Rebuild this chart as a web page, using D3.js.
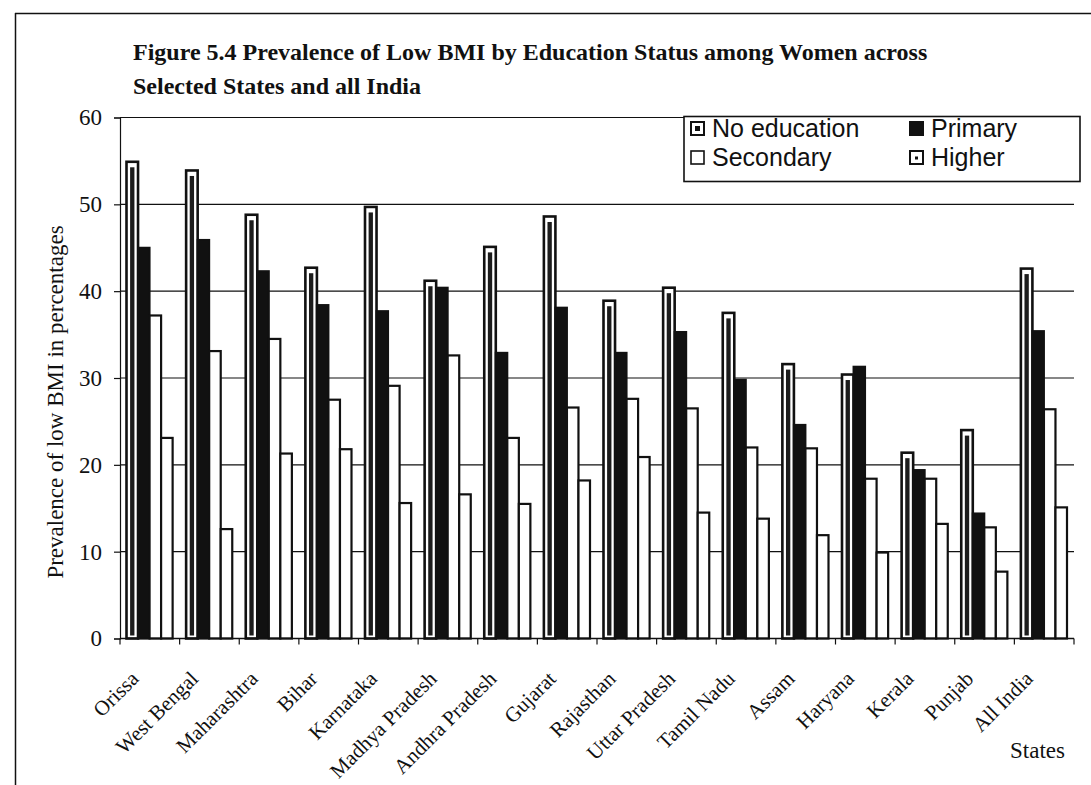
<!DOCTYPE html>
<html>
<head>
<meta charset="utf-8">
<script src="https://cdn.jsdelivr.net/npm/d3@7"></script>
<style>
  html, body { margin: 0; padding: 0; background: #fff; }
  svg { display: block; }
</style>
</head>
<body>
<svg id="chart" width="1091" height="785"></svg>
<script>
const titleLines = [
  "Figure 5.4 Prevalence of Low BMI by Education Status among Women across",
  "Selected States and all India"
];
const states = ["Orissa", "West Bengal", "Maharashtra", "Bihar", "Karnataka", "Madhya Pradesh",
  "Andhra Pradesh", "Gujarat", "Rajasthan", "Uttar Pradesh", "Tamil Nadu", "Assam",
  "Haryana", "Kerala", "Punjab", "All India"];
const seriesNames = ["No education", "Primary", "Secondary", "Higher"];
const noEducation = [54.9, 53.9, 48.8, 42.7, 49.7, 41.2, 45.1, 48.6, 38.9, 40.4, 37.5, 31.6, 30.4, 21.4, 24.0, 42.6];
const primary     = [45.0, 45.9, 42.3, 38.4, 37.7, 40.4, 32.9, 38.1, 32.9, 35.3, 29.8, 24.6, 31.3, 19.4, 14.4, 35.4];
const secondary   = [37.2, 33.1, 34.5, 27.5, 29.1, 32.6, 23.1, 26.6, 27.6, 26.5, 22.0, 21.9, 18.4, 18.4, 12.8, 26.4];
const higher      = [23.1, 12.6, 21.3, 21.8, 15.6, 16.6, 15.5, 18.2, 20.9, 14.5, 13.8, 11.9, 9.9, 13.2, 7.7, 15.1];
const yTicks = [0, 10, 20, 30, 40, 50, 60];
const yAxisTitle = "Prevalence of low BMI in percentages";
const xAxisTitle = "States";

const seriesValues = [noEducation, primary, secondary, higher];
const rows = states.map((s, i) => ({
  state: s,
  vals: seriesNames.map((n, j) => ({ series: n, idx: j, value: seriesValues[j][i] }))
}));

const svg = d3.select("#chart");
const serif = "'Liberation Serif', 'Times New Roman', serif";
const sans = "'Liberation Sans', Arial, sans-serif";

const plot = { left: 120, right: 1074, top: 117.5, bottom: 638.5 };

const x0 = d3.scaleBand().domain(states).range([plot.left, plot.right]).paddingInner(0).paddingOuter(0);
const x1 = d3.scaleBand().domain(seriesNames).range([6.5, x0.bandwidth() - 7]).padding(0);
const y = d3.scaleLinear().domain([0, 60]).range([plot.bottom, plot.top]);

// frame lines
svg.append("line").attr("x1", 15).attr("x2", 1091).attr("y1", 13.5).attr("y2", 13.5)
  .attr("stroke", "#111").attr("stroke-width", 1.5);
svg.append("line").attr("x1", 15.5).attr("x2", 15.5).attr("y1", 13).attr("y2", 785)
  .attr("stroke", "#111").attr("stroke-width", 1.5);

// title
svg.append("g").selectAll("text").data(titleLines).join("text")
  .attr("x", 133).attr("y", (d, i) => 60 + i * 34)
  .attr("font-family", serif).attr("font-weight", "bold").attr("font-size", 24)
  .attr("fill", "#111").text(d => d);

// gridlines
svg.append("g").selectAll("line").data(yTicks.filter(t => t > 0)).join("line")
  .attr("x1", plot.left).attr("x2", plot.right)
  .attr("y1", d => y(d)).attr("y2", d => y(d))
  .attr("stroke", "#111").attr("stroke-width", 1.2);

// y axis
const yAxis = svg.append("g").attr("transform", `translate(${plot.left},0)`)
  .call(d3.axisLeft(y).tickValues(yTicks).tickSize(6).tickPadding(12).tickFormat(d3.format("d")));
yAxis.select(".domain").attr("stroke", "#111").attr("stroke-width", 1.2);
yAxis.selectAll(".tick line").attr("stroke", "#111").attr("stroke-width", 1.2);
yAxis.selectAll("text").attr("font-family", serif).attr("font-size", 23).attr("fill", "#111");

// bars
const groups = svg.append("g").selectAll("g").data(rows).join("g")
  .attr("transform", d => `translate(${x0(d.state)},0)`);

groups.each(function(row) {
  const g = d3.select(this);
  row.vals.forEach(v => {
    const bx = x1(v.series), bw = x1.bandwidth();
    const top = y(v.value), h = y(0) - y(v.value);
    if (v.idx === 0) {
      g.append("rect").attr("x", bx).attr("y", top).attr("width", bw).attr("height", h)
        .attr("fill", "#fff").attr("stroke", "#111").attr("stroke-width", 2.6);
      g.append("rect").attr("x", bx + 3.6).attr("y", top + 5.5).attr("width", bw - 7.2)
        .attr("height", Math.max(0, h - 8.5)).attr("fill", "#1c1c1c");
    } else if (v.idx === 1) {
      g.append("rect").attr("x", bx).attr("y", top).attr("width", bw).attr("height", h)
        .attr("fill", "#111").attr("stroke", "#111").attr("stroke-width", 2);
    } else {
      g.append("rect").attr("x", bx).attr("y", top).attr("width", bw).attr("height", h)
        .attr("fill", "#fff").attr("stroke", "#111").attr("stroke-width", 2.2);
    }
  });
});

// x axis
const xAxis = svg.append("g").attr("transform", `translate(0,${plot.bottom})`);
xAxis.append("line").attr("x1", plot.left).attr("x2", plot.right).attr("y1", 0).attr("y2", 0)
  .attr("stroke", "#111").attr("stroke-width", 1.4);
const boundaries = d3.range(states.length + 1).map(i => plot.left + i * x0.step());
xAxis.selectAll("line.tk").data(boundaries).join("line").attr("class", "tk")
  .attr("x1", d => d).attr("x2", d => d).attr("y1", 0).attr("y2", 6)
  .attr("stroke", "#111").attr("stroke-width", 1.2);

svg.append("g").selectAll("text").data(states).join("text")
  .attr("transform", d => `translate(${x0(d) + x0.bandwidth() / 2 - 10},${680}) rotate(-45)`)
  .attr("text-anchor", "end")
  .attr("font-family", serif).attr("font-size", 21).attr("fill", "#111")
  .text(d => d);

// axis titles
svg.append("text")
  .attr("transform", `translate(63,${(plot.top + plot.bottom) / 2 + 24}) rotate(-90)`)
  .attr("text-anchor", "middle")
  .attr("font-family", serif).attr("font-size", 23).attr("fill", "#111")
  .text(yAxisTitle);
svg.append("text").attr("x", 1065).attr("y", 758).attr("text-anchor", "end")
  .attr("font-family", serif).attr("font-size", 23).attr("fill", "#111").text(xAxisTitle);

// legend
const leg = svg.append("g");
leg.append("rect").attr("x", 684).attr("y", 116.5).attr("width", 396).attr("height", 65)
  .attr("fill", "#fff").attr("stroke", "#111").attr("stroke-width", 1.6);
const legPos = [
  { x: 691, y: 122 }, { x: 910, y: 122 },
  { x: 691, y: 151 }, { x: 910, y: 151 }
];
seriesNames.forEach((name, i) => {
  const p = legPos[i];
  const s = 13;
  if (i === 0) {
    leg.append("rect").attr("x", p.x).attr("y", p.y).attr("width", s).attr("height", s)
      .attr("fill", "#fff").attr("stroke", "#111").attr("stroke-width", 2);
    leg.append("rect").attr("x", p.x + 4).attr("y", p.y + 4).attr("width", s - 8).attr("height", s - 8)
      .attr("fill", "#111");
  } else if (i === 1) {
    leg.append("rect").attr("x", p.x - 1).attr("y", p.y - 1).attr("width", s + 2).attr("height", s + 2)
      .attr("fill", "#111");
  } else if (i === 2) {
    leg.append("rect").attr("x", p.x).attr("y", p.y).attr("width", s).attr("height", s)
      .attr("fill", "#fff").attr("stroke", "#111").attr("stroke-width", 1.6);
  } else {
    leg.append("rect").attr("x", p.x).attr("y", p.y).attr("width", s).attr("height", s)
      .attr("fill", "#fff").attr("stroke", "#111").attr("stroke-width", 2);
    leg.append("rect").attr("x", p.x + 5).attr("y", p.y + 5.5).attr("width", 3).attr("height", 3)
      .attr("fill", "#111");
  }
  leg.append("text").attr("x", p.x + 21).attr("y", p.y + 14.5)
    .attr("font-family", sans).attr("font-size", 25).attr("fill", "#111").text(name);
});
</script>
</body>
</html>
